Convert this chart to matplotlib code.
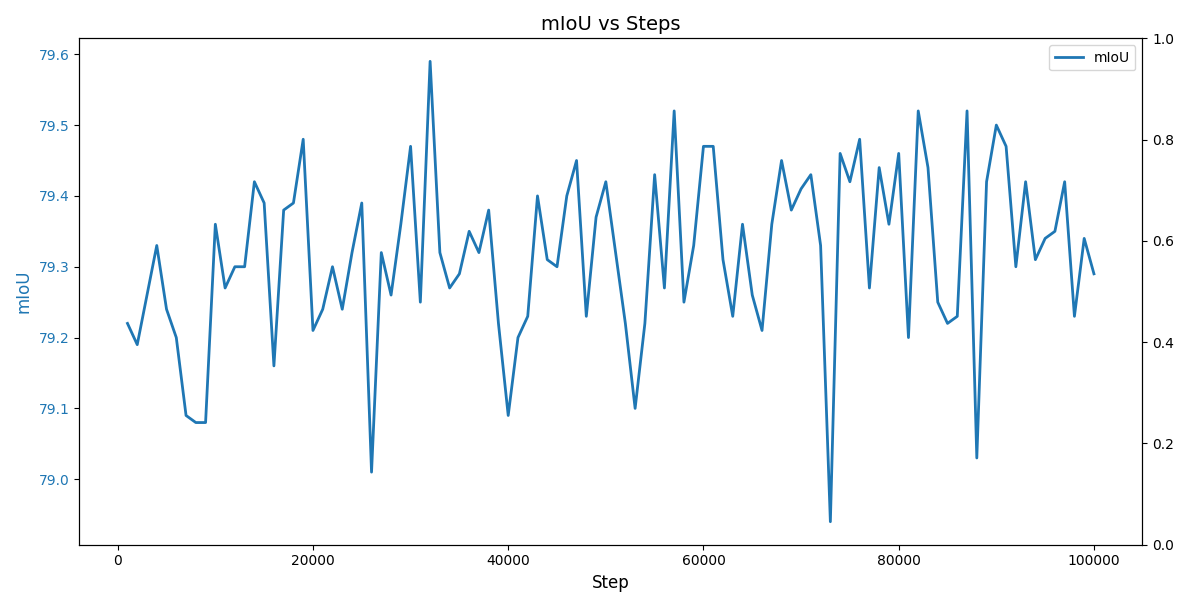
import numpy as np
import matplotlib
matplotlib.use('Agg')
import matplotlib.pyplot as plt

steps = np.arange(1000, 100001, 1000)
miou = [79.22, 79.19, 79.26, 79.33, 79.24, 79.20, 79.09, 79.08, 79.08, 79.36,
        79.27, 79.30, 79.30, 79.42, 79.39, 79.16, 79.38, 79.39, 79.48, 79.21,
        79.24, 79.30, 79.24, 79.32, 79.39, 79.01, 79.32, 79.26, 79.36, 79.47,
        79.25, 79.59, 79.32, 79.27, 79.29, 79.35, 79.32, 79.38, 79.22, 79.09,
        79.20, 79.23, 79.40, 79.31, 79.30, 79.40, 79.45, 79.23, 79.37, 79.42,
        79.32, 79.22, 79.10, 79.22, 79.43, 79.27, 79.52, 79.25, 79.33, 79.47,
        79.47, 79.31, 79.23, 79.36, 79.26, 79.21, 79.36, 79.45, 79.38, 79.41,
        79.43, 79.33, 78.94, 79.46, 79.42, 79.48, 79.27, 79.44, 79.36, 79.46,
        79.20, 79.52, 79.44, 79.25, 79.22, 79.23, 79.52, 79.03, 79.42, 79.50,
        79.47, 79.30, 79.42, 79.31, 79.34, 79.35, 79.42, 79.23, 79.34, 79.29]

fig, ax = plt.subplots(figsize=(11.89, 6.07), dpi=100)
color = 'tab:blue'
ln, = ax.plot(steps, miou, color=color, linewidth=2, label='mIoU')
ax.set_xlabel('Step', fontsize=12)
ax.set_ylabel('mIoU', color=color, fontsize=12)
ax.tick_params(axis='y', labelcolor=color)
ax.set_title('mIoU vs Steps', fontsize=14)

ax2 = ax.twinx()
ax2.legend([ln], ['mIoU'], loc='upper right')

fig.tight_layout()
fig.savefig('out.png', dpi=100)
